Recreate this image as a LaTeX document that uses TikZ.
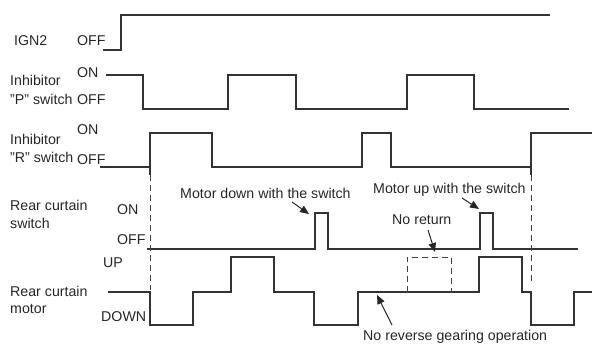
\documentclass[tikz,border=0pt]{standalone}
\usepackage{fontspec}
\setmainfont{Liberation Sans}
\usetikzlibrary{arrows.meta}
\begin{document}
\begin{tikzpicture}[x=1pt,y=-1pt,
  wave/.style={line width=1.05pt, draw=black!80, line join=miter},
  lbl/.style={anchor=base west, inner sep=0pt, font=\fontsize{14.2}{16}\selectfont, text=black!85},
  guide/.style={dash pattern=on 6pt off 4pt, line width=1pt, draw=black!75},
  callout/.style={line width=1pt, draw=black!85, -{Triangle[length=9pt,width=7.5pt]}}]
\useasboundingbox (0,0) rectangle (592,343);
% left labels
\node[lbl] (ign) at (14,45) {IGN2};
\node[lbl] (ignoff) at (77,45) {OFF};
\node[lbl] (pinh) at (10,85) {Inhibitor};
\node[lbl] (psw) at (10,104) {\symbol{34}P\symbol{34} switch};
\node[lbl] (pon) at (77,77) {ON};
\node[lbl] (poff) at (77,104) {OFF};
\node[lbl] (rinh) at (10,144) {Inhibitor};
\node[lbl] (rsw) at (10,162) {\symbol{34}R\symbol{34} switch};
\node[lbl] (ron) at (77,134) {ON};
\node[lbl] (roff) at (77,164) {OFF};
\node[lbl] (cs1) at (10,210) {Rear curtain};
\node[lbl] (cs2) at (10,228) {switch};
\node[lbl] (cson) at (117,214) {ON};
\node[lbl] (csoff) at (117,244) {OFF};
\node[lbl] (cm1) at (10,296) {Rear curtain};
\node[lbl] (cm2) at (10,313) {motor};
\node[lbl] (cmup) at (103,267) {UP};
\node[lbl] (cmdn) at (101,321) {DOWN};
% waveforms
\draw[wave] (103,50) -- (121,50) -- (121,15) -- (550,15);
\draw[wave] (106,75) -| (143,109) -| (228,75) -| (296,109) -| (407,75) -| (474,109) -- (569,109);
\draw[wave] (100,167) -| (150,133) -| (212,167) -| (362,133) -| (391,167) -| (531,133) -- (592,133);
\draw[wave] (150,167) -- (150,175);
\draw[wave] (531,167) -- (531,175);
\draw[wave] (147,249) -| (315,213) -| (328,249) -| (480,213) -| (493,249) -- (578,249);
\draw[wave] (108,292) -| (150,325) -| (193,292) -| (231,257) -| (274,292) -| (314,325) -| (358,292) -| (479,257) -| (522,292) -| (531,325) -| (574,292) -- (592,292);
% guides
\draw[guide] (150,175) -- (150,290);
\draw[guide] (531,175) -- (531,284);
\draw[guide] (407,292) -- (407,257) -- (451,257) -- (451,292);
% callouts
\node[lbl] (tdown) at (180,198) {Motor down with the switch};
\node[lbl] (tup) at (373,193) {Motor up with the switch};
\node[lbl] (tnoret) at (392,224) {No return};
\node[lbl] (tnorev) at (363,340) {No reverse gearing operation};
\coordinate (a1s) at (292,202); \coordinate (a1e) at (309,214);
\coordinate (a2s) at (462,198); \coordinate (a2e) at (479,209);
\coordinate (a3s) at (428,230); \coordinate (a3e) at (435,252);
\coordinate (a4s) at (392,325); \coordinate (a4e) at (377,295);
\draw[callout] (a1s) -- (a1e);
\draw[callout] (a2s) -- (a2e);
\draw[callout] (a3s) -- (a3e);
\draw[callout] (a4s) -- (a4e);
\end{tikzpicture}
\end{document}
